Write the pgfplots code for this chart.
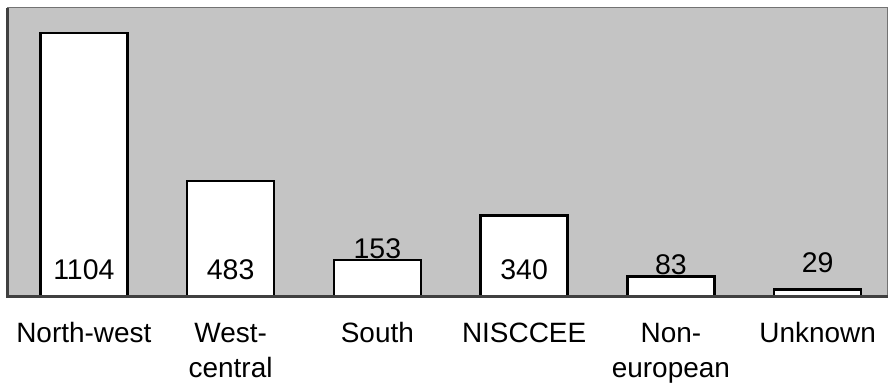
\documentclass[border=0pt]{standalone}
\usepackage{pgfplots}
\pgfplotsset{compat=1.18}
\usepackage{fontspec}
\setmainfont{Liberation Sans}
\definecolor{bgc}{HTML}{C4C4C4}
\begin{document}
\begin{tikzpicture}
\begin{axis}[
  scale only axis,
  width=881pt, height=289pt,
  xmin=-0.517, xmax=5.476,
  ymin=0, ymax=1209,
  axis background/.style={fill=bgc},
  axis line style={draw=black!55, line width=1pt},
  ytick=\empty,
  xtick={0,1,2,3,4,5},
  xticklabels={\strut North-west, {\strut West-\\central}, \strut South, \strut NISCCEE, {\strut Non-\\european}, \strut Unknown},
  xticklabel style={align=center, font=\fontsize{28}{35}\selectfont, anchor=north, yshift=-18pt},
  major tick length=0pt,
  clip=false,
]
\addplot[ybar, bar width=87pt, fill=white, draw=black, line width=2.5pt, bar shift=0pt]
  coordinates {(0,1104) (1,483) (2,153) (3,340) (4,83) (5,29)};
\addplot[only marks, mark=none, nodes near coords, point meta=explicit symbolic,
  nodes near coords style={anchor=center, font=\fontsize{28.5}{30}\selectfont, inner sep=0pt}]
  coordinates {(0,113) [1104] (1,113) [483] (2,201) [153] (3,113) [340] (4,134) [83] (5,142) [29]};
\draw[black!75, line width=3pt] (rel axis cs:0,1) -- (rel axis cs:0,0) -- (rel axis cs:1,0);
\path (axis description cs:-0.00908,-0.3045) (axis description cs:1,1.0277);
\end{axis}
\end{tikzpicture}
\end{document}
